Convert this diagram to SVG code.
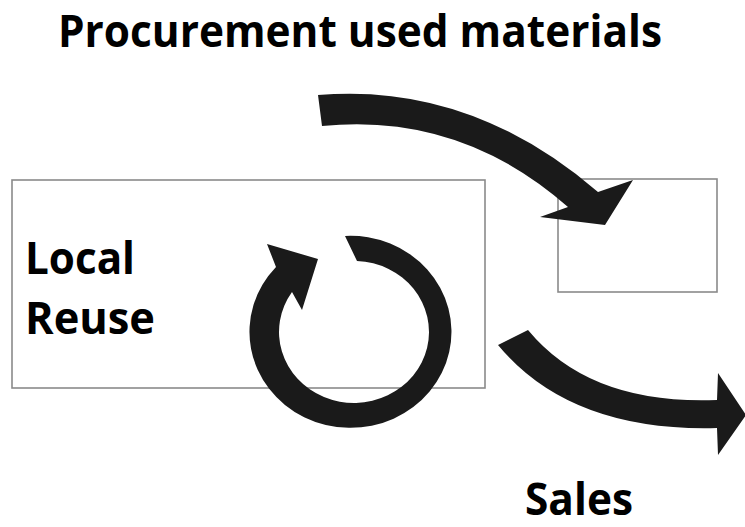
<svg xmlns="http://www.w3.org/2000/svg" width="745" height="527" viewBox="0 0 745 527">
<style>
.lbl{font-family:"Open Sans","Liberation Sans",sans-serif;font-weight:bold;font-size:44px;fill:#000}
.box{fill:none;stroke:#8a8a8a;stroke-width:1.6}
.arr{fill:#1a1a1a;stroke:none}
</style>
<rect width="745" height="527" fill="#fff"/>
<text class="lbl" x="58" y="47" textLength="604" lengthAdjust="spacingAndGlyphs">Procurement used materials</text>
<g id="local-reuse">
<rect class="box" x="12" y="180" width="473" height="208"/>
<text class="lbl" x="25" y="274" textLength="110" lengthAdjust="spacingAndGlyphs">Local</text>
<text class="lbl" x="25" y="334" textLength="130" lengthAdjust="spacingAndGlyphs">Reuse</text>
</g>
<g id="target">
<rect class="box" x="558" y="179" width="159" height="113"/>
</g>
<g id="sales">
<text class="lbl" x="525" y="515" font-size="43" textLength="108" lengthAdjust="spacingAndGlyphs">Sales</text>
</g>
<g id="connectors">
<path class="arr" d="M318,95 Q470,82 598,192 L633,180 L605,225 L540,217 L568,207 Q460,112 322,126 Z"/>
<path class="arr" d="M276,267 A101 96 0 1 0 345,236 L357,261 A75 71 0 1 1 292,292 L302,310 L318,259 L267,244 Z"/>
<path class="arr" d="M528,330 Q590,405 717,400 L718,373 L746,415 L718,455 L717,428 Q570,432 498,345 Z"/>
</g>
</svg>
